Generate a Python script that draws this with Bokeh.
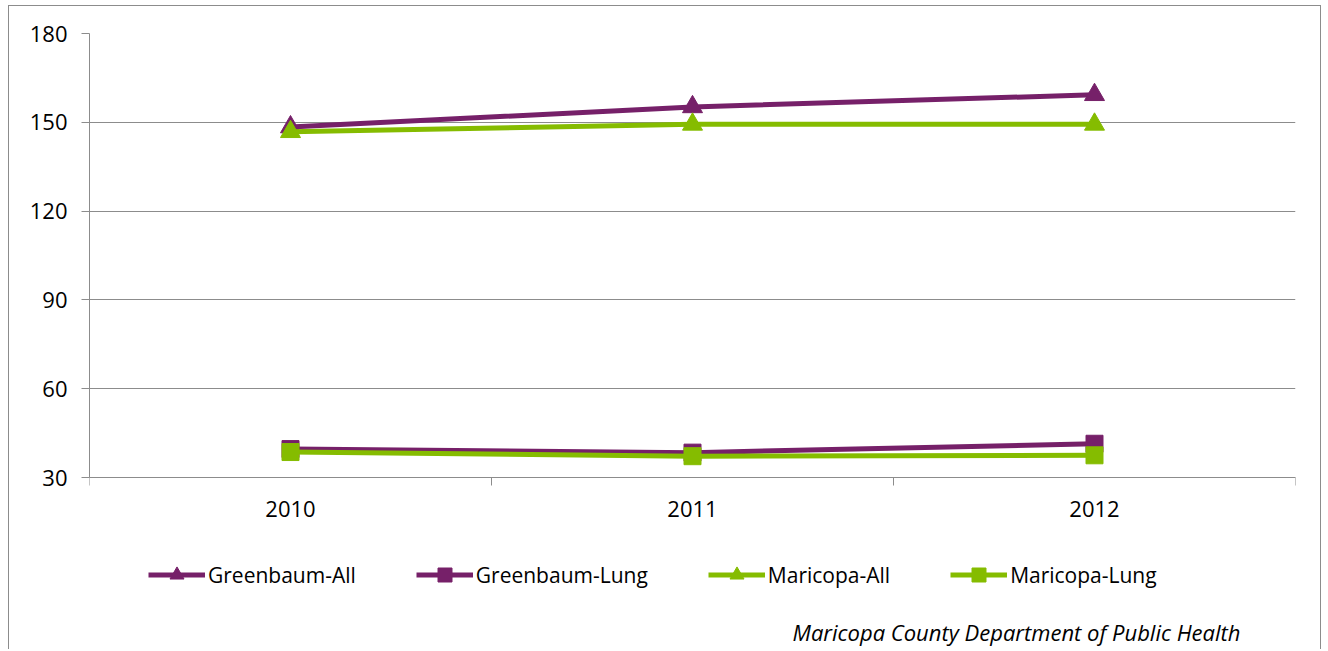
from bokeh.plotting import figure
from bokeh.models import FixedTicker, Legend, LegendItem, Label, Range1d
from bokeh.embed import file_html
from bokeh.resources import INLINE

years = ["2010", "2011", "2012"]
greenbaum_all = [148.4, 155.2, 159.3]
greenbaum_lung = [39.6, 38.4, 41.4]
maricopa_all = [146.8, 149.3, 149.3]
maricopa_lung = [38.6, 37.2, 37.5]
y_ticks = [30, 60, 90, 120, 150, 180]
footnote = "Maricopa County Department of Public Health"

PURPLE = "#762069"
GREEN = "#85bc00"
GRAY = "#8c8c8c"
FONT = "Open Sans"

xs = [i + 0.5 for i in range(len(years))]
bounds = list(range(len(years) + 1))

# canvas geometry (px)
W, H = 1313, 644
ML, MR, MT = 80, 27, 27
frame_h = H - MT
px_per_unit = 444 / (y_ticks[-1] - y_ticks[0])
y_lo = y_ticks[-1] - frame_h / px_per_unit

p = figure(width=W, height=H, x_range=Range1d(0, len(years)), y_range=Range1d(y_lo, y_ticks[-1]),
           output_backend="svg", toolbar_location=None,
           min_border_left=ML, min_border_right=MR, min_border_top=MT, min_border_bottom=0)
p.styles = {"border-left": f"1px solid {GRAY}", "border-right": f"1px solid {GRAY}",
            "border-top": f"1px solid {GRAY}", "margin-left": "8px", "margin-top": "5px"}
p.outline_line_color = None
p.background_fill_color = "white"
p.border_fill_color = "white"

# y axis
p.yaxis.ticker = FixedTicker(ticks=y_ticks)
p.yaxis.bounds = (y_ticks[0], y_ticks[-1])
p.yaxis.major_tick_out = 8
p.yaxis.major_tick_in = 0
p.yaxis.minor_tick_line_color = None
p.yaxis.axis_line_color = GRAY
p.yaxis.major_tick_line_color = GRAY
p.yaxis.major_label_standoff = 14
p.yaxis.major_label_text_font = FONT
p.yaxis.major_label_text_font_size = "22px"
p.yaxis.major_label_text_color = "black"

# x axis, pinned at the bottom value of the y axis
p.xaxis.fixed_location = y_ticks[0]
p.xaxis.ticker = FixedTicker(ticks=xs, minor_ticks=bounds)
p.xaxis.major_label_overrides = {x: y for x, y in zip(xs, years)}
p.xaxis.major_tick_out = 0
p.xaxis.major_tick_in = 0
p.xaxis.minor_tick_out = 8
p.xaxis.minor_tick_in = 0
p.xaxis.minor_tick_line_color = GRAY
p.xaxis.axis_line_color = GRAY
p.xaxis.major_label_standoff = 15
p.xaxis.major_label_text_font = FONT
p.xaxis.major_label_text_font_size = "22px"
p.xaxis.major_label_text_color = "black"

p.xgrid.visible = False
p.ygrid.ticker = FixedTicker(ticks=y_ticks)
p.ygrid.grid_line_color = GRAY
p.ygrid.grid_line_width = 1

series = [
    ("Greenbaum-All", greenbaum_all, PURPLE, "triangle", 20),
    ("Greenbaum-Lung", greenbaum_lung, PURPLE, "square", 17),
    ("Maricopa-All", maricopa_all, GREEN, "triangle", 20),
    ("Maricopa-Lung", maricopa_lung, GREEN, "square", 17),
]
items = []
for name, vals, col, marker, sz in series:
    lr = p.line(xs, vals, line_color=col, line_width=5)
    sr = p.scatter(xs, vals, marker=marker, size=sz, fill_color=col, line_color=col)
    items.append(LegendItem(label=name, renderers=[lr, sr]))

legend = Legend(items=items, orientation="horizontal", location=(59, 58),
                glyph_width=57, glyph_height=35, spacing=60, label_standoff=3,
                padding=0, margin=0, border_line_color=None, background_fill_alpha=0,
                label_text_font=FONT, label_text_font_size="21px", label_text_color="black")
p.add_layout(legend, "center")

note = Label(x=1151, y=19, x_units="screen", y_units="screen", text=footnote,
             text_align="right", text_baseline="middle", text_font=FONT,
             text_font_style="italic", text_font_size="22px", text_color="black")
p.add_layout(note)

open("out.html", "w").write(file_html(p, INLINE))
